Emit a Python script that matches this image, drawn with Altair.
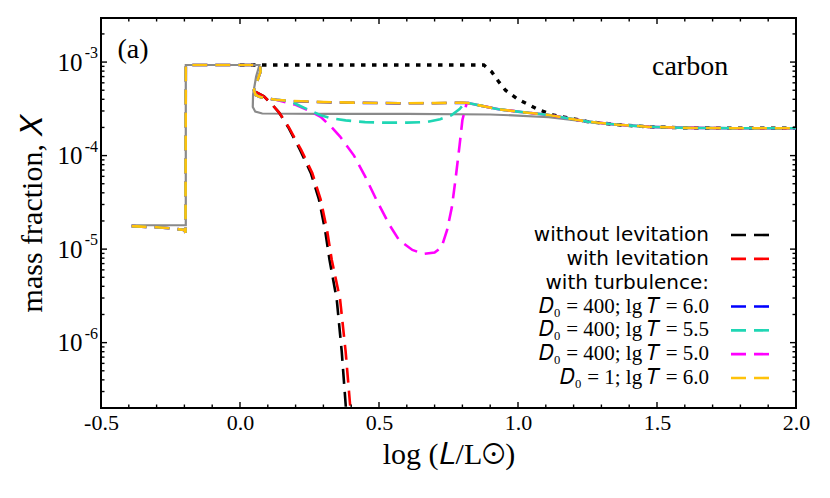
import altair as alt
import pandas as pd

# ---------------- data ----------------
# shared start of the turbulence runs (left plateau, jump, upper plateau, drop)
pre_x = [-0.39, -0.30, -0.25, -0.20, -0.196, -0.195, -0.10, 0.0, 0.05, 0.072, 0.074, 0.05, 0.056, 0.07, 0.092, 0.13]
pre_y = [1.76e-5, 1.71e-5, 1.67e-5, 1.60e-5, 1.50e-5, 9.3e-4, 9.3e-4, 9.3e-4, 9.3e-4, 9.3e-4, 7.9e-4, 5.0e-4, 4.45e-4, 4.25e-4, 4.1e-4, 3.95e-4]

# shared tail after x ~ 0.82
tail_x = [0.82, 0.87, 0.93, 1.0, 1.11, 1.18, 1.25, 1.35, 1.47, 1.6, 1.8, 2.0]
tail_y = [3.65e-4, 3.4e-4, 3.13e-4, 2.95e-4, 2.72e-4, 2.5e-4, 2.31e-4, 2.15e-4, 2.03e-4, 1.98e-4, 1.96e-4, 1.96e-4]

# D0=400, lgT=6.0 (blue) and D0=1, lgT=6.0 (gold): middle part
blue_mid_x = [0.177, 0.30, 0.45, 0.571, 0.70, 0.80]
blue_mid_y = [3.83e-4, 3.72e-4, 3.66e-4, 3.62e-4, 3.63e-4, 3.68e-4]
gold_mid_x = [0.177, 0.30, 0.45, 0.571, 0.70, 0.80]
gold_mid_y = [3.85e-4, 3.73e-4, 3.67e-4, 3.63e-4, 3.64e-4, 3.69e-4]

# D0=400, lgT=5.5 (cyan)
cyan_mid_x = [0.15, 0.19, 0.22, 0.25, 0.29, 0.33, 0.38, 0.45, 0.52, 0.60, 0.67, 0.72, 0.76, 0.79, 0.81]
cyan_mid_y = [3.9e-4, 3.7e-4, 3.35e-4, 3.05e-4, 2.7e-4, 2.5e-4, 2.38e-4, 2.28e-4, 2.25e-4, 2.25e-4, 2.28e-4, 2.45e-4, 2.7e-4, 3.15e-4, 3.68e-4]

# D0=400, lgT=5.0 (magenta)
mag_mid_x = [0.20, 0.26, 0.29, 0.33, 0.36, 0.41, 0.45, 0.49, 0.536, 0.572, 0.62, 0.66, 0.70, 0.725, 0.745, 0.762, 0.775, 0.79, 0.80, 0.815]
mag_mid_y = [3.5e-4, 2.9e-4, 2.6e-4, 2.0e-4, 1.6e-4, 1.0e-4, 6.0e-5, 3.4e-5, 1.85e-5, 1.25e-5, 9.8e-6, 8.9e-6, 9.2e-6, 1.05e-5, 1.6e-5, 2.8e-5, 5.5e-5, 1.3e-4, 2.4e-4, 3.6e-4]

# with levitation (red) and without levitation (black dashed)
red_x = [0.056, 0.086, 0.116, 0.14, 0.176, 0.22, 0.26, 0.29, 0.313, 0.33, 0.36, 0.38, 0.397, 0.405]
red_y = [4.8e-4, 4.3e-4, 3.5e-4, 2.9e-4, 2.0e-4, 1.15e-4, 6.5e-5, 3.4e-5, 1.6e-5, 7.7e-6, 2.9e-6, 8.0e-7, 2.0e-7, 1.2e-7]
black_x = [0.056, 0.086, 0.116, 0.14, 0.174, 0.216, 0.255, 0.284, 0.306, 0.322, 0.348, 0.366, 0.381, 0.39]
black_y = [4.8e-4, 4.3e-4, 3.5e-4, 2.9e-4, 2.0e-4, 1.15e-4, 6.5e-5, 3.4e-5, 1.6e-5, 7.7e-6, 2.9e-6, 8.0e-7, 2.0e-7, 1.2e-7]

# grey solid curve
grey_x = [-0.39, -0.195, -0.195, 0.07, 0.058, 0.047, 0.046, 0.055, 0.08, 0.30, 0.60, 0.90, 1.0, 1.11, 1.24, 1.35, 1.5, 1.7, 2.0]
grey_y = [1.8e-5, 1.8e-5, 9.3e-4, 9.3e-4, 7.0e-4, 4.5e-4, 3.3e-4, 2.95e-4, 2.82e-4, 2.8e-4, 2.8e-4, 2.75e-4, 2.68e-4, 2.57e-4, 2.32e-4, 2.15e-4, 2.02e-4, 1.97e-4, 1.96e-4]

# black dotted curve
dot_x = [0.0, 0.877, 0.905, 0.93, 0.955, 1.0, 1.074, 1.13, 1.25, 1.35, 1.47, 1.6, 1.8, 2.0]
dot_y = [9.3e-4, 9.3e-4, 7.9e-4, 6.2e-4, 5.0e-4, 4.0e-4, 3.1e-4, 2.7e-4, 2.31e-4, 2.15e-4, 2.03e-4, 1.98e-4, 1.96e-4, 1.96e-4]

# axes
x_major = [-0.5, 0.0, 0.5, 1.0, 1.5, 2.0]
x_minor = [-0.4, -0.3, -0.2, -0.1, 0.1, 0.2, 0.3, 0.4, 0.6, 0.7, 0.8, 0.9,
           1.1, 1.2, 1.3, 1.4, 1.6, 1.7, 1.8, 1.9]
y_major = [1e-6, 1e-5, 1e-4, 1e-3]
y_exponents = ["-6", "-5", "-4", "-3"]
y_minor = [m * 10.0 ** e for e in (-7, -6, -5, -4, -3) for m in range(2, 10)
           if 2.0e-7 <= m * 10.0 ** e <= 2.9e-3]

# legend
leg_sans = ["without levitation", "with levitation", "with turbulence:"]
leg_serif = ["𝐷₀ = 400; lg 𝑇 = 6.0", "𝐷₀ = 400; lg 𝑇 = 5.5", "𝐷₀ = 400; lg 𝑇 = 5.0", "𝐷₀ = 1; lg 𝑇 = 6.0"]
leg_line_rows = [0, 1, 3, 4, 5, 6]
leg_line_colors = ["#000000", "#ff0000", "#0000ff", "#1fd6b4", "#ff00ff", "#ffc20a"]

W, H = 695, 390
SERIF = "Liberation Serif"
X_LO, X_HI = -0.5, 2.0
Y_LO, Y_HI = 2.0e-7, 2.96e-3

xscale = alt.Scale(domain=[X_LO, X_HI], nice=False, zero=False)
yscale = alt.Scale(type="log", domain=[Y_LO, Y_HI], nice=False)


def frame(xs, ys):
    return pd.DataFrame({"x": xs, "y": ys, "i": list(range(len(xs)))})


def line(df, color, width, dash=None, xaxis=None, yaxis=None):
    kw = dict(color=color, strokeWidth=width, clip=True)
    if dash is not None:
        kw["strokeDash"] = dash
    return alt.Chart(df).mark_line(**kw).encode(
        x=alt.X("x:Q", scale=xscale, axis=xaxis),
        y=alt.Y("y:Q", scale=yscale, axis=yaxis),
        order="i:Q",
    )


x_axis_main = alt.Axis(
    values=x_major, labelExpr="replace(format(datum.value, '.1f'), '−', '-')",
    ticks=False, domain=False, grid=False, labelFlush=False, labelOverlap=False,
    labelFont=SERIF, labelFontSize=22, labelColor="black", labelPadding=4,
    title="log (𝐿/L⊙)", titleFont=SERIF, titleFontSize=30, titleFontWeight="normal",
    titleColor="black", titlePadding=6,
)
y_axis_main = alt.Axis(
    values=y_major, labelExpr="'10'",
    ticks=False, domain=False, grid=False, labelFlush=False, labelOverlap=False,
    labelFont=SERIF, labelFontSize=25, labelColor="black", labelPadding=19,
    title="mass fraction, 𝑋", titleFont=SERIF, titleFontSize=30, titleFontWeight="normal",
    titleColor="black", titlePadding=10,
)

DASH = [15, 8]
blue_df = frame(pre_x + blue_mid_x + tail_x, pre_y + blue_mid_y + tail_y)
gold_df = frame(pre_x + gold_mid_x + tail_x, pre_y + gold_mid_y + tail_y)
cyan_df = frame(pre_x + cyan_mid_x + tail_x, pre_y + cyan_mid_y + tail_y)
mag_df = frame(pre_x + mag_mid_x + tail_x, pre_y + mag_mid_y + tail_y)

layers = [
    line(frame(dot_x, dot_y), "#000000", 3.4, [4.5, 6.5], xaxis=x_axis_main, yaxis=y_axis_main),
    line(frame(grey_x, grey_y), "#8a8a8a", 2.2),
    line(frame(black_x, black_y), "#000000", 2.6, DASH),
    line(frame(red_x, red_y), "#ff0000", 2.6, DASH),
    line(blue_df, "#0000ff", 2.6, DASH),
    line(mag_df, "#ff00ff", 2.6, DASH),
    line(cyan_df, "#1fd6b4", 2.6, DASH),
    line(gold_df, "#ffc20a", 2.6, DASH),
]

# ---- inward tick marks: short two-point segments placed through the scales ----
MAJ_F, MIN_F = 1.16, 1.09          # vertical tick length as a log-scale factor (~6 px / ~3.5 px)
MAJ_D, MIN_D = 0.0216, 0.0126      # horizontal tick length in x units (~6 px / ~3.5 px)
tick_rows = []
for vals, f in ((x_major, MAJ_F), (x_minor, MIN_F)):
    for v in vals:
        tick_rows += [("b%s" % v, v, Y_LO), ("b%s" % v, v, Y_LO * f),
                      ("t%s" % v, v, Y_HI), ("t%s" % v, v, Y_HI / f)]
for vals, d in ((y_major, MAJ_D), (y_minor, MIN_D)):
    for v in vals:
        tick_rows += [("l%s" % v, X_LO, v), ("l%s" % v, X_LO + d, v),
                      ("r%s" % v, X_HI, v), ("r%s" % v, X_HI - d, v)]
tick_df = pd.DataFrame(tick_rows, columns=["t", "x", "y"])
ticks = alt.Chart(tick_df).mark_line(color="black", strokeWidth=1.4).encode(
    x=alt.X("x:Q", scale=xscale, axis=None),
    y=alt.Y("y:Q", scale=yscale, axis=None),
    detail="t:N",
)

# exponents of the y tick labels
exp_df = pd.DataFrame({"y": y_major, "e": y_exponents})
exps = alt.Chart(exp_df).mark_text(align="right", baseline="middle", font=SERIF, fontSize=16,
                                   color="black", dy=-9).encode(
    y=alt.Y("y:Q", scale=yscale, axis=None), x=alt.value(-3), text="e:N")

# panel annotations (data coordinates)
label_a = pd.DataFrame({"x": [-0.441], "y": [1.11e-3], "t": ["(a)"]})
label_c = pd.DataFrame({"x": [1.619], "y": [7.3e-4], "t": ["carbon"]})
ann = [
    alt.Chart(label_a).mark_text(align="left", baseline="alphabetic", font=SERIF, fontSize=28, color="black").encode(
        x=alt.X("x:Q", scale=xscale, axis=None), y=alt.Y("y:Q", scale=yscale, axis=None), text="t:N"),
    alt.Chart(label_c).mark_text(align="center", baseline="alphabetic", font=SERIF, fontSize=28, color="black").encode(
        x=alt.X("x:Q", scale=xscale, axis=None), y=alt.Y("y:Q", scale=yscale, axis=None), text="t:N"),
]

main = alt.layer(*layers, ticks, exps, *ann).resolve_axis(x="independent", y="independent")

# legend
leg_y = alt.Y("row:O", scale=alt.Scale(type="point", domain=list(range(7)), range=[217, 360], padding=0), axis=None)
sans_df = pd.DataFrame({"row": [0, 1, 2], "label": leg_sans})
serif_df = pd.DataFrame({"row": [3, 4, 5, 6], "label": leg_serif})
line_df = pd.DataFrame({"row": leg_line_rows, "c": leg_line_colors})
legend = alt.layer(
    alt.Chart(sans_df).mark_text(align="right", baseline="middle", font="DejaVu Sans", fontSize=20, color="black").encode(
        x=alt.value(608), y=leg_y, text="label:N"),
    alt.Chart(serif_df).mark_text(align="right", baseline="middle", font=SERIF, fontSize=21, color="black").encode(
        x=alt.value(608), y=leg_y, text="label:N"),
    alt.Chart(line_df).mark_rule(strokeWidth=2.6, strokeDash=DASH).encode(
        x=alt.value(630), x2=alt.value(672), y=leg_y, color=alt.Color("c:N", scale=None)),
)

chart = alt.layer(main, legend).resolve_scale(y="independent").properties(
    width=W, height=H, autosize="none",
    padding={"left": 93, "top": 10, "right": 20, "bottom": 80},
).configure_view(stroke="black", strokeWidth=2)

chart.save("out.html", embed_options={"renderer": "svg", "actions": False})
